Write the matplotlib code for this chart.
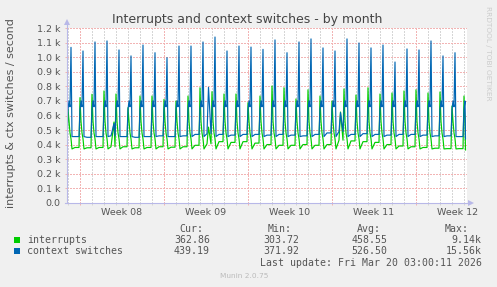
import numpy as np
import matplotlib
matplotlib.use("Agg")
import matplotlib.pyplot as plt
from matplotlib.patches import Rectangle

W, H = 497, 287

# time axis in days; day 0 = Sun Feb 15 2026 00:00
X_START = -2 / 24
X_END = 33 + 6 / 24
DATA_END = 33 + 3 / 24          # last update 03:00
WEEK_STARTS = [1, 8, 15, 22, 29]
WEEK_LABELS = ["Week 08", "Week 09", "Week 10", "Week 11", "Week 12"]

YTICKS = [0, 100, 200, 300, 400, 500, 600, 700, 800, 900, 1000, 1100, 1200]
YLABELS = ["0.0", "0.1 k", "0.2 k", "0.3 k", "0.4 k", "0.5 k", "0.6 k",
           "0.7 k", "0.8 k", "0.9 k", "1.0 k", "1.1 k", "1.2 k"]

# daily peaks (interrupts peak around 00:00, context switches around 06:00)
GREEN_PEAK = [644, 723, 746, 769, 748, 654, 734, 734, 711, 700, 734, 791,
              764, 748, 748, 688, 734, 803, 791, 714, 777, 734, 700, 783,
              741, 791, 748, 755, 769, 777, 755, 762, 665, 734]
BLUE_PEAK = [1069, 1044, 1106, 1113, 1051, 1010, 1085, 1032, 998, 1078,
             1078, 1106, 1140, 1044, 1078, 1071, 1055, 1120, 1032, 1106,
             1127, 1065, 1044, 1127, 1099, 1065, 1085, 968, 1058, 1051,
             1113, 1010, 1032, 600]

# quiet-time levels per day
GREEN_BASE = [380, 378, 380, 385, 385, 378, 380, 385, 382, 385, 395, 405,
              420, 415, 420, 410, 400, 395, 395, 400, 395, 400, 430, 425,
              420, 415, 400, 390, 385, 380, 375, 372, 372, 370]
BLUE_BASE = [455, 450, 455, 460, 455, 450, 455, 460, 455, 460, 470, 475,
             470, 465, 470, 470, 465, 470, 465, 460, 470, 480, 490, 470,
             475, 470, 465, 470, 470, 465, 460, 460, 455, 450]

# shape around the nightly jobs (hours after midnight)
SPIKE_HOURS = [0, 2, 4, 6, 8]
GREEN_SPIKE = [None, 560, 480, 440, 370]    # None -> daily peak
BLUE_SPIKE = [640, 700, 660, None, 455]
BASE_HOURS = [14, 22]

# occasional extra bumps: (day, hour, interrupts, context switches)
EXTRA = [(3, 20, 555, 545), (11, 17, 520, 794), (22, 17, 624, 620)]

CUR = (362.86, 439.19)
LEGEND = [
    ("interrupts", "#00CC00", "362.86", "303.72", "458.55", "9.14k"),
    ("context switches", "#0066B3", "439.19", "371.92", "526.50", "15.56k"),
]


def build_series():
    pts = {"t": [X_START], "g": [GREEN_BASE[0]], "b": [BLUE_BASE[0]]}
    rows = []
    for d in range(len(GREEN_PEAK)):
        for h, gs, bs in zip(SPIKE_HOURS, GREEN_SPIKE, BLUE_SPIKE):
            g = GREEN_PEAK[d] if gs is None else gs
            b = BLUE_PEAK[d] if bs is None else bs
            rows.append((d + h / 24, g, b))
        for h in BASE_HOURS:
            rows.append((d + h / 24, GREEN_BASE[d], BLUE_BASE[d]))
    for d, h, g, b in EXTRA:
        rows.append((d + h / 24, g, b))
    rows.sort()
    for t, g, b in rows:
        if t >= DATA_END:
            break
        pts["t"].append(t)
        pts["g"].append(g)
        pts["b"].append(b)
    pts["t"].append(DATA_END)
    pts["g"].append(CUR[0])
    pts["b"].append(CUR[1])
    return pts


def fx(px):
    return px / W


def fy(py):
    return 1 - py / H


def main():
    fig = plt.figure(figsize=(W / 100, H / 100), dpi=100, facecolor="#F0F0F0")
    ax = fig.add_axes([fx(67), fy(202.7), 400 / W, 174.4 / H])
    ax.set_facecolor("white")

    s = build_series()
    ax.plot(s["t"], s["g"], color="#00CC00", lw=0.85, zorder=3)
    ax.plot(s["t"], s["b"], color="#0066B3", lw=0.85, zorder=4)

    ax.set_xlim(X_START, X_END)
    ax.set_ylim(0, 1200)

    # grid (dotted, 1px on / 1px off)
    red = "#F2B4B4"
    grey = "#D6D6D6"
    dots = (0, (1.4, 1.4))
    for d in range(0, 34):
        if d not in WEEK_STARTS:
            ax.axvline(d, color=grey, lw=0.72, ls=dots, zorder=1,
                       antialiased=False)
    for d in WEEK_STARTS:
        ax.axvline(d, color=red, lw=0.72, ls=dots, zorder=2,
                   antialiased=False)
    for v in YTICKS[1:]:
        ax.axhline(v, color=red, lw=0.72, ls=dots, zorder=2,
                   antialiased=False)

    for sp in ax.spines.values():
        sp.set_visible(False)
    ax.set_xticks(WEEK_STARTS)
    ax.set_xticks([d for d in range(0, 34) if d not in WEEK_STARTS], minor=True)
    ax.set_xticklabels([])
    ax.tick_params(axis="x", which="major", length=1.5, width=0.72,
                   color=red, direction="out")
    ax.tick_params(axis="x", which="minor", length=1.5, width=0.72,
                   color=grey, direction="out")
    ax.set_yticks(YTICKS)
    ax.set_yticklabels(YLABELS)
    ax.tick_params(axis="y", length=1.5, width=0.72, color=red,
                   pad=3, labelsize=6.8, labelcolor="#555555")

    # axes with arrows
    axc = "#B8B8E8"
    ax.plot([0, 0], [0, 1.035], color=axc, lw=0.8, transform=ax.transAxes,
            clip_on=False, zorder=5)
    ax.plot([-0.005, 1.01], [0, 0], color=axc, lw=0.8,
            transform=ax.transAxes, clip_on=False, zorder=5)
    ax.plot([0], [1.035], marker="^", ms=4, color=axc, mew=0,
            transform=ax.transAxes, clip_on=False, zorder=5)
    ax.plot([1.01], [0], marker=">", ms=4, color=axc, mew=0,
            transform=ax.transAxes, clip_on=False, zorder=5)

    for start, lab in zip(WEEK_STARTS, WEEK_LABELS):
        ax.text(start + 3.5, -(212.5 - 202.7) / 174.4, lab,
                transform=ax.get_xaxis_transform(), ha="center",
                va="center", fontsize=6.8, color="#555555", clip_on=False)

    fig.text(fx(247.5), fy(19.5), "Interrupts and context switches - by month",
             ha="center", va="center", fontsize=9, color="#444444")
    fig.text(fx(11), fy(113.5), "interrupts & ctx switches / second",
             ha="center", va="center", rotation=90, fontsize=8,
             color="#555555")
    fig.text(fx(488), fy(53), "RRDTOOL / TOBI OETIKER", ha="center",
             va="center", rotation=270, fontsize=5.3, color="#CCCCCC")

    mono = dict(family="DejaVu Sans Mono", fontsize=7.1, color="#555555",
                va="center")
    cols = [210, 299.3, 387.3, 481.7]
    heads = ["Cur:", "Min:", "Avg:", "Max:"]
    head_right = [203.5, 291.7, 380.7, 469]
    for hx, h in zip(head_right, heads):
        fig.text(fx(hx), fy(229), h, ha="right", **mono)
    row_y = [240, 251.3]
    for y, (name, col, *vals) in zip(row_y, LEGEND):
        fig.patches.append(Rectangle((fx(14), fy(y + 3)), 6 / W, 6 / H,
                                     transform=fig.transFigure,
                                     facecolor=col, edgecolor="none"))
        fig.text(fx(26.7), fy(y), name, ha="left", **mono)
        for cx, v in zip(cols, vals):
            fig.text(fx(cx), fy(y), v, ha="right", **mono)
    fig.text(fx(482.3), fy(262.5), "Last update: Fri Mar 20 03:00:11 2026",
             ha="right", **mono)
    fig.text(fx(244), fy(276), "Munin 2.0.75", ha="center", va="center",
             fontsize=5.3, color="#BBBBBB")

    fig.savefig("out.png", dpi=100, facecolor=fig.get_facecolor())


if __name__ == "__main__":
    main()
